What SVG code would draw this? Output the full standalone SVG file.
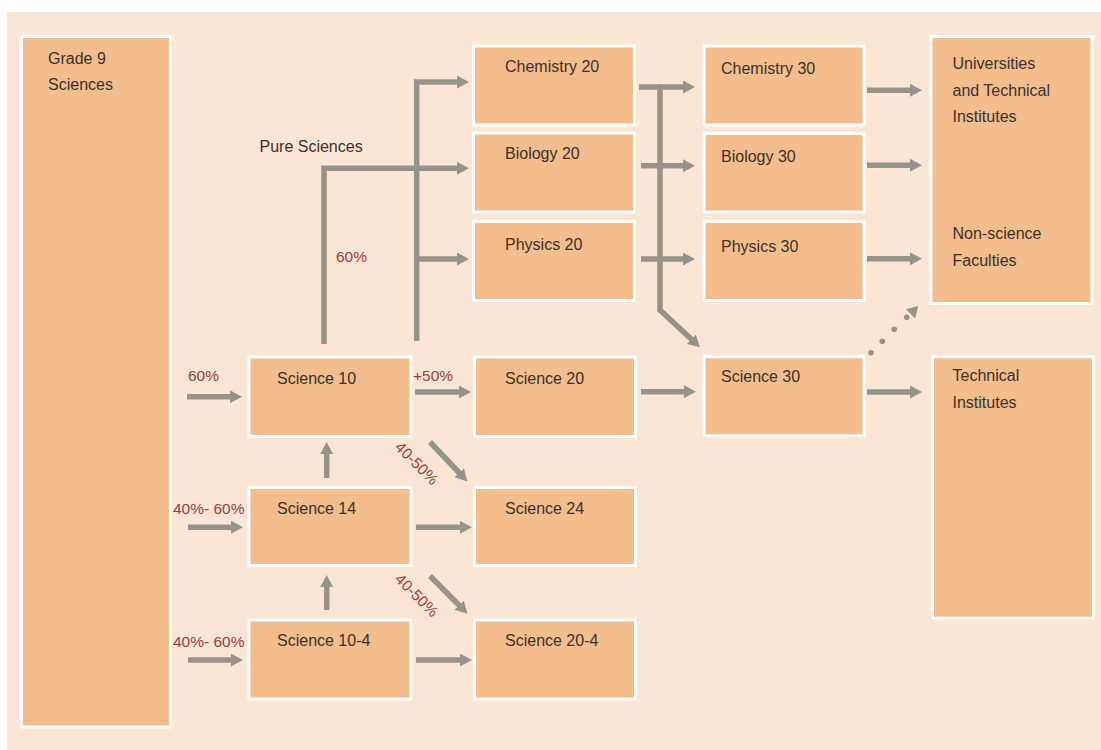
<svg xmlns="http://www.w3.org/2000/svg" width="1101" height="750" viewBox="0 0 1101 750">
<defs>
<style>
.bg{fill:#FBE6D5}
.node rect{fill:#F4BD8D;stroke:#FFFFFF;stroke-width:3}
.node text,.lbl{font-family:"Liberation Sans",Arial,sans-serif;font-size:16px;fill:#3B302A}
.pct{font-family:"Liberation Sans",Arial,sans-serif;font-size:15.5px;fill:#A23D3A}
.conn path{fill:none;stroke:#96938B;stroke-width:5.5;stroke-linejoin:miter}
.arr{marker-end:url(#ah)}
.dot{fill:#96938B}
</style>
<marker id="ah" markerUnits="userSpaceOnUse" markerWidth="12" markerHeight="13" refX="1" refY="6.5" orient="auto">
<path d="M0,0 L12,6.5 L0,13 z" fill="#96938B"/>
</marker>
</defs>
<rect class="bg" x="7" y="12" width="1094" height="738"/>

<g id="grade9" class="node"><rect x="21.5" y="36.5" width="149" height="690.5"/><text x="48" y="64">Grade 9</text><text x="48" y="90">Sciences</text></g>

<g id="chem20" class="node"><rect x="473.5" y="46" width="161" height="79"/><text x="505" y="72">Chemistry 20</text></g>
<g id="bio20" class="node"><rect x="473.5" y="133" width="161" height="79"/><text x="505" y="159">Biology 20</text></g>
<g id="phys20" class="node"><rect x="473.5" y="221.5" width="161" height="79"/><text x="505" y="250">Physics 20</text></g>

<g id="chem30" class="node"><rect x="704" y="46" width="160" height="79"/><text x="721" y="74">Chemistry 30</text></g>
<g id="bio30" class="node"><rect x="704" y="133.5" width="160" height="78.5"/><text x="721" y="161.5">Biology 30</text></g>
<g id="phys30" class="node"><rect x="704" y="221.5" width="160" height="79"/><text x="721" y="252">Physics 30</text></g>

<g id="univ" class="node"><rect x="931" y="36.5" width="161" height="267"/><text x="952.5" y="69">Universities</text><text x="952.5" y="95.5">and Technical</text><text x="952.5" y="122">Institutes</text><text x="952.5" y="239">Non-science</text><text x="952.5" y="266">Faculties</text></g>

<g id="tech" class="node"><rect x="932.5" y="356.7" width="161" height="261.5"/><text x="952.5" y="381">Technical</text><text x="952.5" y="407.5">Institutes</text></g>

<g id="sci10" class="node"><rect x="249" y="357" width="162" height="79.5"/><text x="277" y="384">Science 10</text></g>
<g id="sci14" class="node"><rect x="249" y="487.5" width="162" height="78"/><text x="277" y="514">Science 14</text></g>
<g id="sci104" class="node"><rect x="249" y="620" width="162" height="79"/><text x="277" y="646">Science 10-4</text></g>

<g id="sci20" class="node"><rect x="474.5" y="357" width="161" height="79.5"/><text x="505" y="384">Science 20</text></g>
<g id="sci24" class="node"><rect x="474.5" y="487.5" width="161" height="78"/><text x="505" y="514">Science 24</text></g>
<g id="sci204" class="node"><rect x="474.5" y="620" width="161" height="79"/><text x="505" y="646">Science 20-4</text></g>

<g id="sci30" class="node"><rect x="704" y="356.7" width="160" height="79"/><text x="721" y="382">Science 30</text></g>

<g id="connectors" class="conn">
<path class="arr" d="M187,396.7 H231"/>
<path class="arr" d="M188,527.3 H232"/>
<path class="arr" d="M188,660 H232"/>
<path class="arr" d="M415,392 H460"/>
<path class="arr" d="M416,527.3 H461"/>
<path class="arr" d="M416,660 H461"/>
<path class="arr" d="M326.7,478 V453"/>
<path class="arr" d="M326.7,610 V586"/>
<path class="arr" d="M430,442 L459.9,473.5"/>
<path class="arr" d="M430,576 L459.8,606"/>
<path class="arr" d="M324,344 V168.3 H458"/>
<path class="arr" d="M416.7,341 V82 H458"/>
<path class="arr" d="M416.7,259 H458"/>
<path class="arr" d="M639,87 H684"/>
<path class="arr" d="M660,84.5 V310 L692,339.8"/>
<path class="arr" d="M641,165.7 H684"/>
<path class="arr" d="M641,259 H684"/>
<path class="arr" d="M641,391.7 H685"/>
<path class="arr" d="M867,90.3 H911"/>
<path class="arr" d="M867,165.3 H911"/>
<path class="arr" d="M867,258.7 H911"/>
<path class="arr" d="M867,392 H911"/>
<circle class="dot" cx="871" cy="352.7" r="2.8"/>
<circle class="dot" cx="882.3" cy="341.3" r="2.8"/>
<circle class="dot" cx="894.3" cy="329.3" r="2.8"/>
<circle class="dot" cx="906.7" cy="317.3" r="2.8"/>
<polygon class="dot" points="918.3,306 915.1,318.4 905.9,309.2"/>
</g>

<text class="lbl" x="259.5" y="152.3">Pure Sciences</text>
<text class="pct" x="336" y="261.7">60%</text>
<text class="pct" x="188" y="380.7">60%</text>
<text class="pct" x="413" y="380.7">+50%</text>
<text class="pct" x="173" y="514.3">40%- 60%</text>
<text class="pct" x="173" y="647.3">40%- 60%</text>
<text class="pct" text-anchor="middle" transform="translate(413,467) rotate(45)">40-50%</text>
<text class="pct" text-anchor="middle" transform="translate(413,599) rotate(45)">40-50%</text>
</svg>
